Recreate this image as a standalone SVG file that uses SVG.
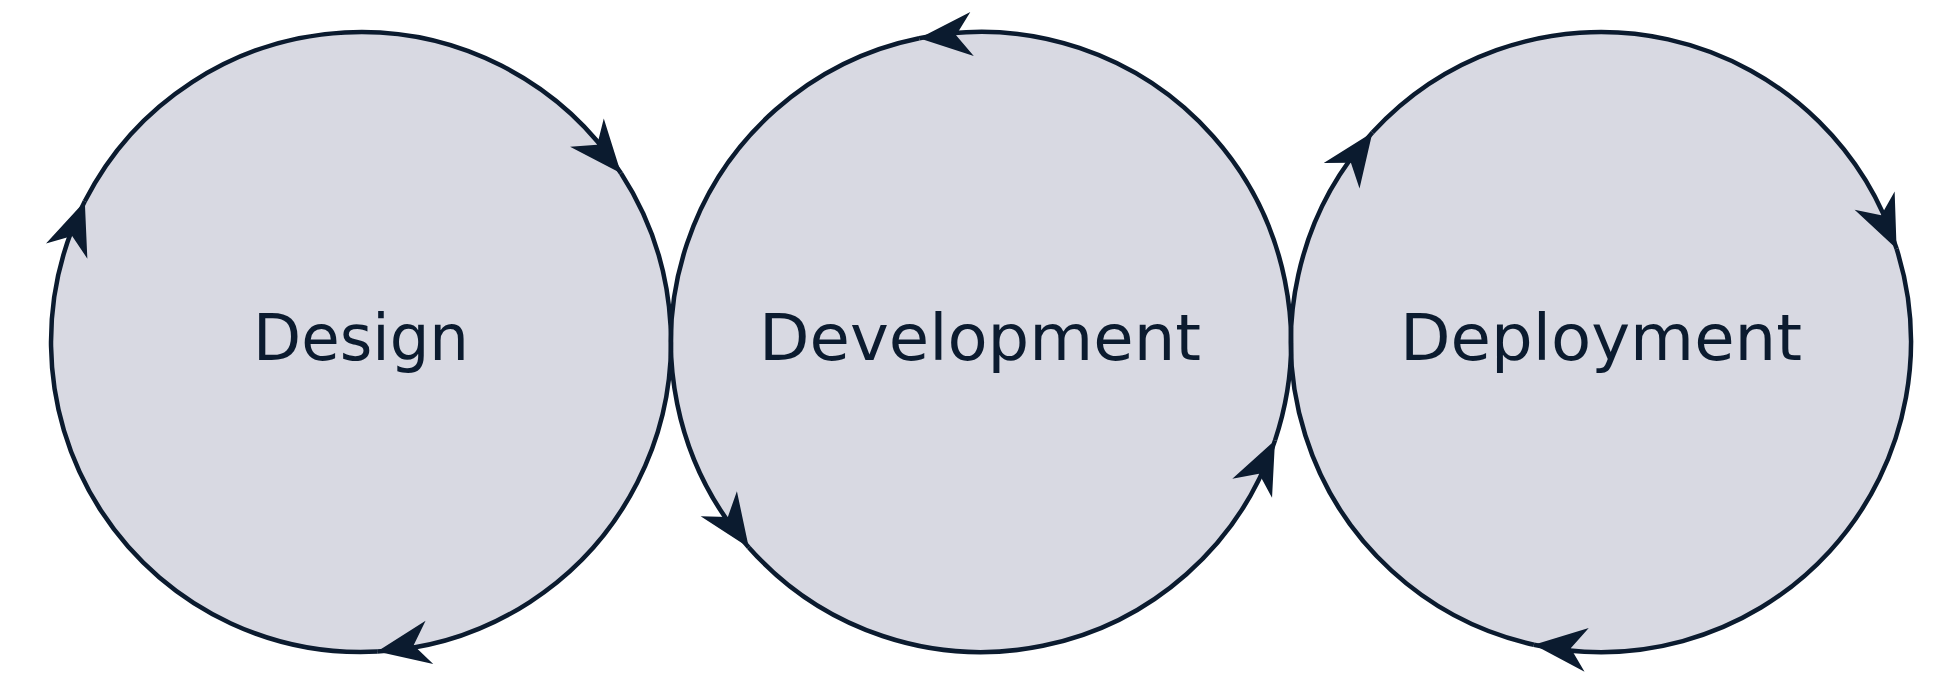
<svg xmlns="http://www.w3.org/2000/svg" xmlns:xlink="http://www.w3.org/1999/xlink" width="1958" height="679" viewBox="0 0 1958 679">
  <style>
    .node { fill: #d8d9e2; stroke: none; }
    .label { font-family: "DejaVu Sans", "Noto Sans", "Liberation Sans", sans-serif; font-size: 64px; fill: #0b1b2f; text-anchor: middle; }
    .arc { fill: none; stroke: #0b1b2f; stroke-width: 4.5; }
    .head { fill: #0b1b2f; stroke: none; }
  </style>
  <defs>
    <path id="ah" d="M0,0 L-53,-22 L-37,0 L-53,22 Z"/>
  </defs>
  <rect x="0" y="0" width="1958" height="679" fill="#ffffff"/>

  <g id="design">
    <circle class="node" cx="361" cy="342" r="310"/>
    <text class="label" x="361" y="360" textLength="216" lengthAdjust="spacingAndGlyphs">Design</text>
  </g>
  <g id="development">
    <circle class="node" cx="981" cy="342" r="310"/>
    <text class="label" x="980" y="360" textLength="442" lengthAdjust="spacingAndGlyphs">Development</text>
  </g>
  <g id="deployment">
    <circle class="node" cx="1601" cy="342" r="310"/>
    <text class="label" x="1601" y="360" textLength="402" lengthAdjust="spacingAndGlyphs">Deployment</text>
  </g>

  <g id="connectors">
    <!-- Design: clockwise -->
    <path class="arc" d="M621.0,173.2 A310,310 0 0 1 377.2,651.6"/>
    <path class="arc" d="M377.2,651.6 A310,310 0 0 1 84.8,201.3"/>
    <path class="arc" d="M84.8,201.3 A310,310 0 0 1 621.0,173.2"/>
    <use xlink:href="#ah" class="head" transform="translate(621.0,173.2) rotate(50)"/>
    <use xlink:href="#ah" class="head" transform="translate(377.2,651.6) rotate(170)"/>
    <use xlink:href="#ah" class="head" transform="translate(84.8,201.3) rotate(290)"/>

    <!-- Development: counter-clockwise -->
    <path class="arc" d="M919.2,38.2 A310,310 0 0 0 748.8,547.4"/>
    <path class="arc" d="M748.8,547.4 A310,310 0 0 0 1275.0,440.4"/>
    <path class="arc" d="M1275.0,440.4 A310,310 0 0 0 919.2,38.2"/>
    <use xlink:href="#ah" class="head" transform="translate(919.2,38.2) rotate(175.5)"/>
    <use xlink:href="#ah" class="head" transform="translate(748.8,547.4) rotate(55.5)"/>
    <use xlink:href="#ah" class="head" transform="translate(1275.0,440.4) rotate(-64.5)"/>

    <!-- Deployment: clockwise -->
    <path class="arc" d="M1372.4,132.6 A310,310 0 0 1 1896.6,248.8"/>
    <path class="arc" d="M1896.6,248.8 A310,310 0 0 1 1533.9,644.7"/>
    <path class="arc" d="M1533.9,644.7 A310,310 0 0 1 1372.4,132.6"/>
    <use xlink:href="#ah" class="head" transform="translate(1372.4,132.6) rotate(305.5)"/>
    <use xlink:href="#ah" class="head" transform="translate(1896.6,248.8) rotate(65.5)"/>
    <use xlink:href="#ah" class="head" transform="translate(1533.9,644.7) rotate(185.5)"/>
  </g>
</svg>
